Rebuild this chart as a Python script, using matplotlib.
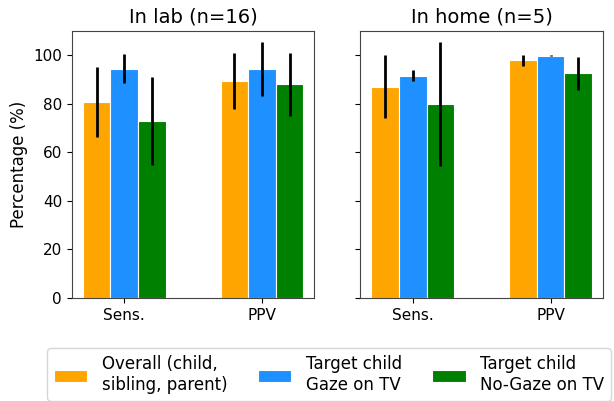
import matplotlib
matplotlib.use("Agg")
import matplotlib.pyplot as plt
import numpy as np

metrics = ["Sens.", "PPV"]
panels = ["In lab (n=16)", "In home (n=5)"]
series = ["Overall (child,\nsibling, parent)", "Target child\nGaze on TV", "Target child\nNo-Gaze on TV"]
colors = ["orange", "dodgerblue", "green"]

# mean values per panel: rows = series, columns = metrics
lab_means = [[80.8, 89.4], [94.5, 94.3], [73.0, 88.0]]
lab_err = [[14.5, 11.5], [6.0, 11.0], [18.2, 13.0]]
home_means = [[87.0, 97.8], [91.5, 99.8], [80.0, 92.5]]
home_err = [[13.0, 2.3], [2.2, 0.3], [25.5, 6.8]]

fig, axes = plt.subplots(1, 2, figsize=(6.14, 4.01), dpi=100, sharey=True)
fig.subplots_adjust(left=0.117, right=0.982, top=0.923, bottom=0.257, wspace=0.19)

x = np.arange(len(metrics))
width = 0.2
handles = []
for ax, title, means, errs in zip(axes, panels, [lab_means, home_means], [lab_err, home_err]):
    for i, (m, e, c, lab) in enumerate(zip(means, errs, colors, series)):
        b = ax.bar(x + (i - 1) * width, m, width, yerr=e, color=c, edgecolor="white",
                   linewidth=0.8, label=lab,
                   error_kw=dict(ecolor="black", elinewidth=2, capsize=0))
        if ax is axes[0]:
            handles.append(b)
    ax.set_title(title, fontsize=14)
    ax.set_xticks(x)
    ax.set_xticklabels(metrics, fontsize=11)
    ax.set_ylim(0, 110)
    ax.tick_params(axis="y", labelsize=11)
    for s in ax.spines.values():
        s.set_color("#444444")

axes[0].set_yticks([0, 20, 40, 60, 80, 100])
axes[0].set_ylabel("Percentage (%)", fontsize=12)

fig.legend(handles=handles, labels=series, loc="lower center", ncol=3, fontsize=12,
           bbox_to_anchor=(0.536, 0.001), borderaxespad=0.0, handlelength=2.0,
           columnspacing=1.85, handletextpad=0.85, frameon=True, edgecolor="#cccccc")

fig.savefig("out.png", dpi=100)
